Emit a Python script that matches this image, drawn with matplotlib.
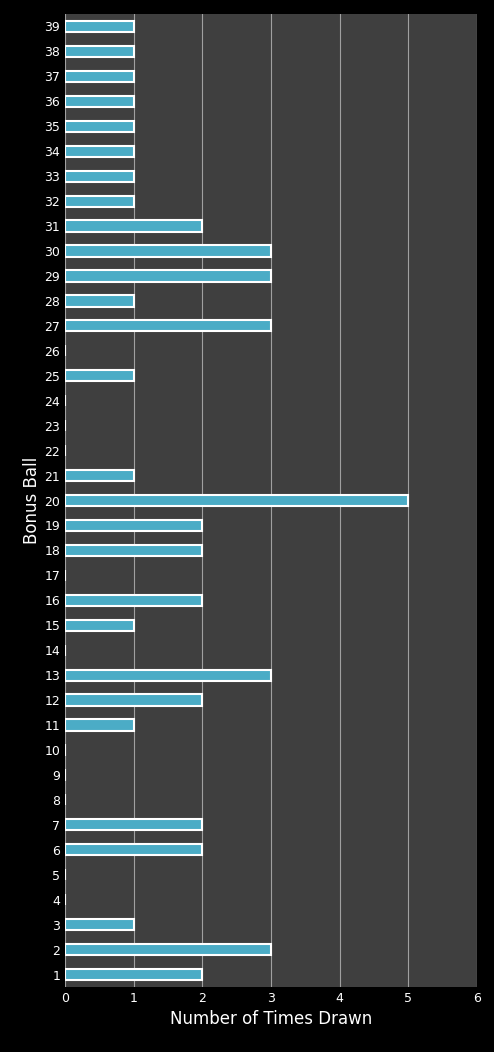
import matplotlib
matplotlib.use("Agg")
import matplotlib.pyplot as plt

balls = list(range(1, 40))
counts = [2,3,1,0,0,2,2,0,0,0,1,2,3,0,1,2,0,2,2,5,1,0,0,0,1,0,3,1,3,3,2,1,1,1,1,1,1,1,1]

fig = plt.figure(figsize=(4.94, 10.52), dpi=100, facecolor='black')
ax = fig.add_axes([65/494, 1-987/1052, 412/494, 973/1052])
ax.set_facecolor('#3f3f3f')
ax.barh(balls, counts, height=0.45, color='#4bacc6', edgecolor='white', linewidth=1.5, zorder=3)
ax.set_xlim(0, 6)
ax.set_ylim(0.5, 39.5)
ax.set_xticks(range(0, 7))
ax.set_yticks(balls)
ax.set_yticklabels([str(b) for b in balls])
ax.grid(axis='x', color='#a0a0a0', linewidth=0.8, zorder=0)
ax.tick_params(colors='white', labelsize=9, length=0)
for s in ax.spines.values():
    s.set_visible(False)
ax.set_xlabel('Number of Times Drawn', color='white', fontsize=12)
ax.set_ylabel('Bonus Ball', color='white', fontsize=12, labelpad=2)
fig.savefig('out.png', dpi=100, facecolor='black')
